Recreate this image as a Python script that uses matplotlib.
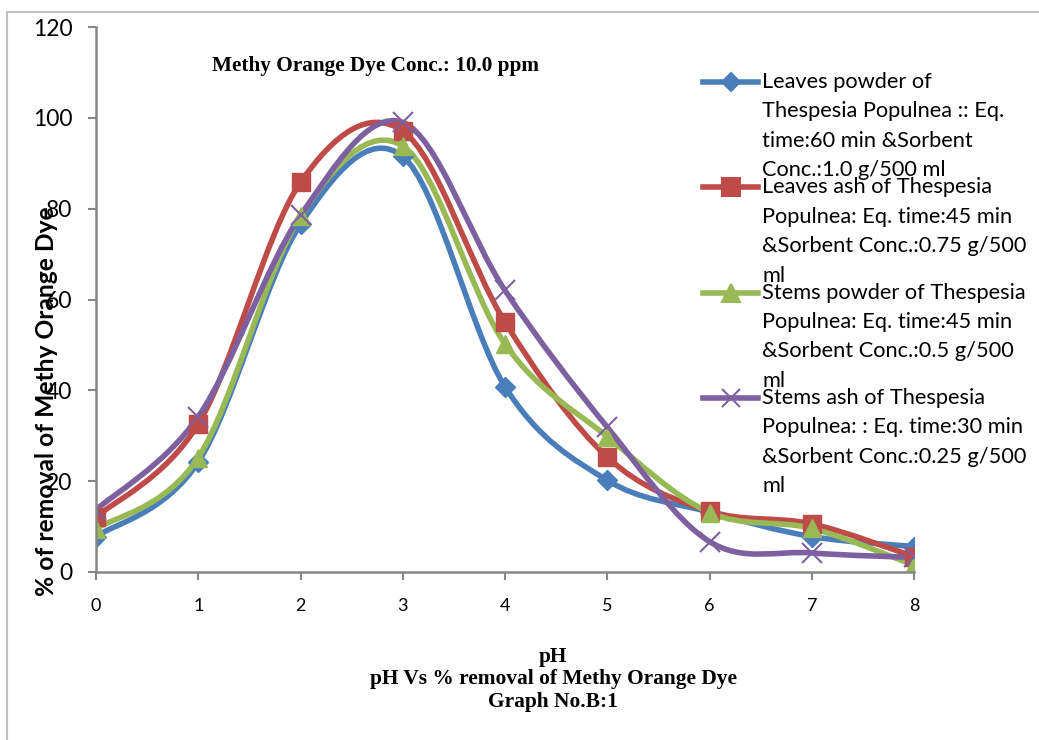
import matplotlib
matplotlib.use('Agg')
import matplotlib.pyplot as plt
import numpy as np
from matplotlib.path import Path
from matplotlib.patches import PathPatch, Rectangle
from matplotlib.lines import Line2D

ph = [0, 1, 2, 3, 4, 5, 6, 7, 8]

leaves_powder = [7.8, 24.2, 76.6, 91.5, 40.8, 20.2, 13.2, 7.8, 5.6]
leaves_ash = [12.1, 32.6, 85.8, 97.1, 55.0, 25.3, 13.4, 10.6, 3.4]
stems_powder = [9.5, 25.2, 78.3, 93.8, 50.2, 29.8, 13.1, 9.6, 1.5]
stems_ash = [13.7, 34.2, 78.5, 99.0, 62.0, 31.9, 6.7, 4.2, 3.2]

series_names = [
    ["Leaves powder of", "Thespesia Populnea :: Eq.", "time:60 min &Sorbent",
     "Conc.:1.0 g/500 ml"],
    ["Leaves ash of Thespesia", "Populnea: Eq. time:45 min",
     "&Sorbent Conc.:0.75 g/500", "ml"],
    ["Stems powder of Thespesia", "Populnea: Eq. time:45 min",
     "&Sorbent Conc.:0.5 g/500", "ml"],
    ["Stems ash of Thespesia", "Populnea: : Eq. time:30 min",
     "&Sorbent Conc.:0.25 g/500", "ml"],
]

colors = ['#4A7EBB', '#BE4B48', '#98B954', '#7D60A0']
markers = ['D', 's', '^', 'x']
msizes = [10, 13, 13, 14]

sans = 'Lato'
serif = 'Liberation Serif'


def smooth_path(xs, ys):
    # Catmull-Rom style cubic bezier through the points (spreadsheet smoothing)
    p = np.column_stack([xs, ys]).astype(float)
    n = len(p)
    verts = [p[0]]
    codes = [Path.MOVETO]
    for i in range(n - 1):
        p0 = p[i - 1] if i > 0 else p[i]
        p3 = p[i + 2] if i + 2 < n else p[i + 1]
        c1 = p[i] + (p[i + 1] - p0) / 6.0
        c2 = p[i + 1] - (p3 - p[i]) / 6.0
        verts += [c1, c2, p[i + 1]]
        codes += [Path.CURVE4] * 3
    return Path(verts, codes)


fig = plt.figure(figsize=(10.39, 7.40), dpi=100)
ax = fig.add_axes([96 / 1039, 1 - 572 / 740, (914 - 96) / 1039, (572 - 27) / 740])

all_series = [leaves_powder, leaves_ash, stems_powder, stems_ash]
for vals, c, m, ms in zip(all_series, colors, markers, msizes):
    ax.add_patch(PathPatch(smooth_path(ph, vals), fill=False, edgecolor=c,
                           lw=4.0, capstyle='round', joinstyle='round'))
    if m == 'x':
        ax.plot(ph, vals, ls='none', marker=m, ms=ms, mew=1.5, color=c)
    else:
        ax.plot(ph, vals, ls='none', marker=m, ms=ms, color=c, mec=c)

ax.set_xlim(0, 8)
ax.set_ylim(0, 120)
ax.set_xticks(ph)
ax.set_yticks(range(0, 121, 20))
for s in ['top', 'right']:
    ax.spines[s].set_visible(False)
for s in ['left', 'bottom']:
    ax.spines[s].set_color('#868686')
    ax.spines[s].set_linewidth(1.8)
ax.tick_params(axis='y', direction='out', length=6, width=1.5, color='#868686',
               pad=11, labelsize=16.5)
ax.tick_params(axis='x', direction='out', length=6, width=1.5, color='#868686',
               pad=13, labelsize=13)
for lab in ax.get_xticklabels() + ax.get_yticklabels():
    lab.set_fontfamily(sans)

# outer chart border
fig.patches.append(Rectangle((7 / 1039, -0.1), 1.2, 1 - 12 / 740 + 0.1,
                             transform=fig.transFigure, fill=False,
                             edgecolor='#BFBFBF', lw=1.5))

fig.text(47 / 1039, 1 - 401 / 740, "% of removal of Methy Orange Dye",
         rotation=90, ha='center', va='center', fontsize=17.7,
         fontweight='bold', family=sans)

fig.text(375 / 1039, 1 - 66 / 740, "Methy Orange Dye Conc.: 10.0 ppm",
         ha='center', va='center', fontsize=15.3, fontweight='bold', family=serif)

fig.text(553 / 1039, 1 - 657 / 740, "pH", ha='center', va='center',
         fontsize=15.4, fontweight='bold', family=serif)
fig.text(553 / 1039, 1 - 679 / 740, "pH Vs % removal of Methy Orange Dye",
         ha='center', va='center', fontsize=15.4, fontweight='bold', family=serif)
fig.text(553 / 1039, 1 - 702 / 740, "Graph No.B:1", ha='center', va='center',
         fontsize=15.4, fontweight='bold', family=serif)

# legend entries, laid out by hand
for k, (lines, c, m, ms) in enumerate(zip(series_names, colors, markers, msizes)):
    y0 = 82 + k * 105.3
    fy = 1 - y0 / 740
    fig.add_artist(Line2D([703 / 1039, 758 / 1039], [fy, fy], color=c, lw=4.0,
                          transform=fig.transFigure))
    fig.add_artist(Line2D([731 / 1039], [fy], ls='none', marker=m,
                          ms=ms * 0.95, color=c, mew=1.5,
                          transform=fig.transFigure))
    for j, t in enumerate(lines):
        fig.text(762 / 1039, 1 - (y0 + j * 29.4) / 740, t, ha='left',
                 va='center', fontsize=15.7, family=sans)

fig.savefig('out.png', dpi=100)
